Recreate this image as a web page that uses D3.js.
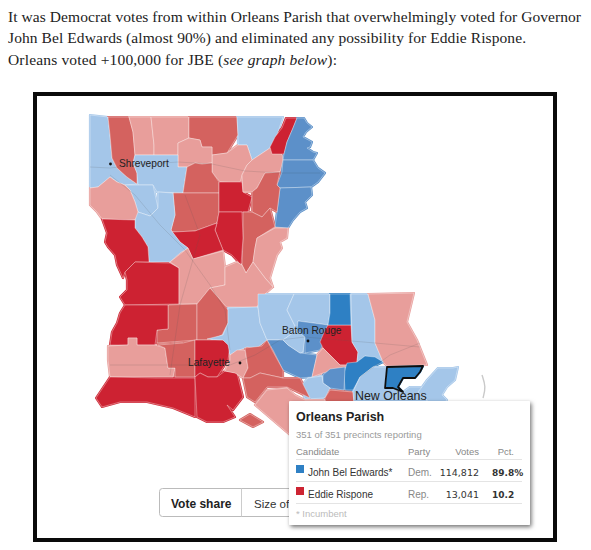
<!DOCTYPE html>
<html><head><meta charset="utf-8">
<script src="https://cdn.jsdelivr.net/npm/d3@7/dist/d3.min.js"></script>
<style>html,body{margin:0;padding:0;background:#fff}svg{display:block}</style>
</head><body>
<script>
// ---------- DATA ----------
const introLines = [
  [["It was Democrat votes from within Orleans Parish that overwhelmingly voted for Governor","normal"]],
  [["John Bel Edwards (almost 90%) and eliminated any possibility for Eddie Rispone.","normal"]],
  [["Orleans voted +100,000 for JBE (","normal"],["see graph below","italic"],["):","normal"]]
];
const shareBins = ["R strong","R mid","R light","D light","D mid","D strong"];
const shareColors = ["#cd2432","#d4625f","#e89e9b","#a4c6e9","#5b90c9","#2f80c4"];

const parishNames = ["Caddo","Bossier","Webster","Claiborne","Union","Morehouse","Ouachita","Lincoln","Bienville","Jackson","Winn","Caldwell","Richland","East Carroll","Madison","Tensas N","Tensas S","Franklin","Catahoula","Concordia","LaSalle","Grant","Red River","Natchitoches","De Soto","Sabine","Vernon","Rapides","Avoyelles","Allen","Evangeline","Beauregard","Calcasieu","Jeff Davis","Acadia","Cameron","Vermilion","St. Landry","Pointe Coupee","W. Feliciana","Iberville","W. Baton Rouge","E. Baton Rouge","Livingston","St. Helena","Tangipahoa","St. Tammany","Ascension","St. John","Assumption","Lafourche N","Terrebonne N","Jefferson","Plaquemines","Lafayette","St. Martin","St. Mary","Terrebonne S","Marsh Island","Orleans"];
const parishBins = ["D light","R mid","R light","R light","R mid","D light","R light","R light","D light","R mid","R mid","R strong","R light","R strong","D mid","D mid","D mid","R mid","R mid","R light","R strong","R strong","D light","D light","R light","R strong","R strong","R light","R light","R mid","R mid","R strong","R light","R mid","R strong","R strong","R strong","D light","D light","D light","D mid","D light","D mid","R strong","D strong","D light","R light","R light","D strong","D mid","D light","R mid","D light","D light","R light","R mid","R mid","R light","R mid","D strong"];
// Parish outlines, hand-traced, in map units
const parishRings = [
 [[0,0],[18,2],[20,20],[22,43],[27,53],[37,62],[47,69],[35,70],[27,67],[20,62],[8,72],[0,73]],
 [[18,2],[39,2],[43,17],[45,40],[43,48],[47,58],[47,69],[37,62],[27,53],[22,43],[20,20]],
 [[39,2],[61,2],[64,30],[64,40],[45,40],[43,17]],
 [[61,2],[99,2],[99,23],[88,28],[88,40],[64,40],[64,30]],
 [[99,2],[147,2],[148,20],[137,38],[122,40],[122,32],[112,32],[110,25],[99,23]],
 [[147,2],[193,2],[187,20],[180,33],[162,45],[157,30],[148,30],[148,20]],
 [[137,38],[148,30],[157,30],[162,45],[157,50],[152,60],[150,68],[130,67],[122,57],[122,40]],
 [[88,28],[99,23],[110,25],[112,32],[122,32],[122,48],[112,49],[105,48],[97,52],[88,52]],
 [[64,40],[88,40],[88,52],[97,52],[93,78],[67,77],[63,70],[48,70],[47,58],[43,48],[45,40]],
 [[97,52],[105,48],[112,49],[122,48],[122,57],[129,67],[129,78],[93,78]],
 [[83,78],[129,78],[129,97],[127,108],[105,116],[82,117],[81,115],[85,100]],
 [[129,67],[152,67],[153,77],[162,82],[158,97],[129,97]],
 [[180,33],[192,39],[193,45],[190,57],[175,58],[167,73],[162,77],[153,77],[152,60],[157,50],[162,45]],
 [[196,3],[207,3],[203,13],[197,27],[194,39],[182,39],[180,32],[185,22],[192,13]],
 [[207,3],[214,3],[217,8],[222,12],[216,17],[213,22],[222,27],[220,32],[217,33],[223,37],[227,38],[223,45],[193,45],[194,39],[197,27],[203,13]],
 [[193,45],[223,45],[228,53],[235,58],[228,67],[221,72],[190,73],[187,70],[192,57]],
 [[190,73],[221,72],[222,80],[215,87],[217,93],[210,97],[203,105],[198,113],[185,112],[187,97]],
 [[175,58],[190,57],[187,70],[190,73],[187,97],[180,93],[172,102],[162,97],[162,82],[162,77],[167,73]],
 [[153,97],[162,97],[172,102],[180,93],[185,112],[183,113],[167,123],[165,133],[163,147],[156,158],[152,150],[153,123]],
 [[185,113],[198,113],[197,123],[190,127],[192,133],[187,140],[183,153],[180,163],[183,172],[175,163],[163,147],[165,133],[167,123]],
 [[129,97],[152,97],[153,123],[151,150],[142,140],[133,135],[125,115],[127,108]],
 [[82,117],[105,116],[127,108],[125,115],[133,135],[103,144],[98,133],[90,127]],
 [[35,70],[63,70],[68,93],[60,101],[48,97],[45,87],[40,75]],
 [[68,77],[83,78],[85,100],[81,115],[90,127],[98,133],[90,138],[80,147],[59,147],[58,132],[52,122],[45,113],[45,98],[48,97],[60,101],[68,93]],
 [[0,73],[8,72],[20,62],[27,67],[35,70],[40,75],[45,87],[48,97],[45,105],[12,104],[7,97],[0,90]],
 [[12,104],[45,105],[45,113],[52,122],[58,132],[59,147],[45,147],[35,157],[33,163],[27,150],[25,140],[18,132],[15,127],[17,118]],
 [[35,157],[45,147],[80,148],[89,153],[89,189],[35,190],[30,182],[37,175],[37,165]],
 [[80,147],[98,133],[103,144],[133,136],[135,152],[135,170],[120,173],[107,189],[89,189],[89,153]],
 [[135,152],[147,147],[152,150],[156,158],[163,147],[175,163],[183,172],[175,179],[167,192],[137,192],[132,187],[120,173],[135,170]],
 [[78,190],[107,189],[107,225],[67,228],[67,215],[78,214]],
 [[107,189],[120,173],[132,187],[138,195],[138,208],[132,220],[120,225],[107,225]],
 [[35,190],[78,190],[78,214],[67,215],[65,230],[47,230],[47,223],[38,223],[38,230],[20,230],[22,217],[27,208],[30,198]],
 [[18,231],[38,230],[38,223],[47,223],[47,230],[65,230],[75,233],[78,253],[85,253],[83,262],[20,262],[18,245]],
 [[68,230],[93,228],[105,225],[105,262],[85,262],[85,253],[78,253],[75,233]],
 [[105,225],[133,225],[140,230],[138,245],[133,253],[127,262],[118,262],[110,258],[105,262]],
 [[20,262],[67,263],[105,263],[105,302],[83,293],[57,287],[30,287],[12,292],[6,283]],
 [[105,262],[110,258],[118,262],[127,262],[135,256],[147,258],[153,282],[143,295],[137,290],[145,302],[133,307],[117,307],[107,302]],
 [[117,224],[133,220],[138,208],[138,193],[168,192],[170,208],[177,225],[167,233],[157,232],[147,236],[140,240],[138,230],[133,225]],
 [[168,179],[204,179],[197,195],[207,215],[193,225],[177,225],[170,208],[168,192]],
 [[204,179],[240,179],[240,198],[238,210],[208,206],[207,215],[197,195]],
 [[177,225],[193,225],[198,230],[210,238],[227,240],[222,262],[210,263],[193,255],[183,235]],
 [[193,225],[207,215],[215,222],[213,237],[210,238],[198,230]],
 [[208,206],[238,210],[235,225],[230,235],[215,238],[215,222],[207,215]],
 [[238,210],[261,210],[262,227],[268,237],[267,247],[262,250],[250,250],[243,243],[233,233],[230,227],[235,215]],
 [[240,179],[260,179],[261,210],[238,210],[240,198]],
 [[261,179],[278,179],[285,205],[285,228],[293,247],[275,241],[267,247],[268,237],[262,227]],
 [[278,179],[324,178],[317,207],[327,225],[335,245],[337,250],[297,251],[293,247],[285,228],[285,205]],
 [[227,240],[233,233],[243,243],[250,250],[262,250],[257,252],[253,253],[233,258],[222,262]],
 [[257,248],[267,247],[275,241],[285,242],[293,247],[283,252],[270,262],[263,275],[255,275],[254,258]],
 [[233,260],[240,254],[255,252],[254,275],[240,273],[233,268]],
 [[210,272],[218,263],[232,261],[233,268],[240,273],[235,283],[215,284]],
 [[235,283],[240,275],[263,277],[265,300],[235,300]],
 [[263,277],[270,262],[283,252],[297,252],[295,273],[303,273],[313,277],[320,272],[332,272],[337,285],[340,300],[265,300]],
 [[337,265],[348,253],[363,253],[368,252],[365,265],[357,272],[352,280],[357,285],[340,300],[337,285],[328,277],[332,272]],
 [[140,240],[147,235],[155,235],[158,253],[153,263],[145,258],[135,256],[140,245]],
 [[155,233],[172,231],[177,225],[182,235],[193,255],[193,263],[170,258],[160,263],[153,263],[158,253]],
 [[153,263],[160,263],[170,258],[193,263],[210,263],[220,283],[197,272],[177,272],[165,287],[157,282]],
 [[165,290],[177,275],[197,273],[205,280],[215,285],[235,285],[240,320],[200,320]],
 [[150,305],[160,299],[173,307],[163,312]],
 [[297,252],[333,251],[330,257],[325,263],[313,263],[308,272],[313,277],[303,273],[295,273]]
];
const highwayNames = ["I-20","I-49","I-10","I-12","US-165","US-61"];
const highwayPaths = [
 [[0,52],[20,53],[45,50],[88,47],[122,49],[155,56],[190,58],[230,58]],
 [[20,60],[45,80],[70,110],[95,135],[120,170],[135,195],[140,235]],
 [[20,250],[80,250],[140,250],[165,240],[190,225],[215,222]],
 [[215,222],[285,228],[330,232]],
 [[95,80],[110,120],[90,190],[80,260]],
 [[270,262],[300,240],[330,228]]
];
const coastArc = [[392,260],[396,272],[393,283]];
const cityNames = ["Shreveport","Baton Rouge","Lafayette"];
const cityPoints = [[20.5,49],[218,226],[150,248]];
const cityLabelPos = [[29,52],[192,219],[98,251]];
const bigCity = ["New Orleans",[265,285]];

const tooltipTitle = "Orleans Parish";
const tooltipSub = "351 of 351 precincts reporting";
const tableHeaders = ["Candidate","Party","Votes","Pct."];
const candidates = ["John Bel Edwards*","Eddie Rispone"];
const parties = ["Dem.","Rep."];
const votes = ["114,812","13,041"];
const pcts = ["89.8%","10.2"];
const candidateBins = ["D strong","R strong"];
const footnote = "* Incumbent";
const buttons = ["Vote share","Size of"];

// ---------- DRAW ----------
const W = 591, H = 550;
const svg = d3.select("body").append("svg").attr("width",W).attr("height",H);
const x = d3.scaleLinear().domain([0,400]).range([90,490]);
const y = d3.scaleLinear().domain([0,400]).range([115,515]);
const color = d3.scaleOrdinal(shareBins, shareColors);
const line = d3.line().x(d=>x(d[0])).y(d=>y(d[1]));
const SERIF = "'Liberation Serif',serif", SANS = "'Liberation Sans',Arial,sans-serif";

// intro
const lineFit = [573,518,329];
svg.selectAll("text.intro").data(introLines).join("text")
  .attr("class","intro").attr("x",8).attr("y",(d,i)=>[22,43,65][i])
  .attr("font-family",SERIF).attr("font-size",15.5).attr("fill","#222")
  .attr("textLength",(d,i)=>lineFit[i]).attr("lengthAdjust","spacing")
  .selectAll("tspan").data(d=>d).join("tspan")
  .attr("font-style",d=>d[1]).text(d=>d[0]);

// frame
svg.append("rect").attr("x",35).attr("y",94).attr("width",520).attr("height",446)
  .attr("fill","#fff").attr("stroke","#0a0a0a").attr("stroke-width",4);

const defs = svg.append("defs");
defs.append("filter").attr("id","soft").append("feGaussianBlur").attr("stdDeviation",.35);
const mapG = svg.append("g").attr("filter","url(#soft)");

// parishes: first pass closes slivers between hand-traced neighbours, second pass draws borders
mapG.append("g").selectAll("path").data(parishRings).join("path")
  .attr("d",d=>line(d)+"Z")
  .attr("fill",(d,i)=>color(parishBins[i]))
  .attr("stroke",(d,i)=>color(parishBins[i])).attr("stroke-width",2.2)
  .attr("stroke-linejoin","round");
mapG.append("g").selectAll("path").data(parishRings).join("path")
  .attr("d",d=>line(d)+"Z")
  .attr("fill",(d,i)=>color(parishBins[i]))
  .attr("stroke","#fff").attr("stroke-opacity",.4).attr("stroke-width",.9)
  .attr("stroke-linejoin","round");
// highways
mapG.append("g").selectAll("path").data(highwayPaths).join("path")
  .attr("d",line).attr("fill","none").attr("stroke","#555").attr("stroke-opacity",.2).attr("stroke-width",.8);
// orleans outline
mapG.append("path").attr("d",line(parishRings[parishNames.indexOf("Orleans")])+"Z")
  .attr("fill","none").attr("stroke","#111").attr("stroke-width",1.8).attr("stroke-linejoin","round");
// coast arc
mapG.append("path").attr("d",line.curve(d3.curveBasis)(coastArc)).attr("fill","none")
  .attr("stroke","#c9c9c9").attr("stroke-width",1.4);
line.curve(d3.curveLinear);

// cities
svg.append("g").selectAll("circle").data(cityPoints).join("circle")
  .attr("cx",d=>x(d[0])).attr("cy",d=>y(d[1])).attr("r",1.4).attr("fill","#111");
svg.append("g").selectAll("text").data(cityNames).join("text")
  .attr("x",(d,i)=>x(cityLabelPos[i][0])).attr("y",(d,i)=>y(cityLabelPos[i][1]))
  .attr("font-family",SANS).attr("font-size",10.2).attr("fill","#222").text(d=>d);
svg.append("text").attr("x",x(bigCity[1][0])).attr("y",y(bigCity[1][1]))
  .attr("font-family",SANS).attr("font-size",12.4).attr("fill","#222").text(bigCity[0]);

// button group
svg.append("rect").attr("x",159.5).attr("y",488.5).attr("width",175).attr("height",28).attr("rx",3)
  .attr("fill","#fff").attr("stroke","#bbb");
svg.append("line").attr("x1",241.5).attr("x2",241.5).attr("y1",488.5).attr("y2",516.5).attr("stroke","#ccc");
svg.append("text").attr("x",171).attr("y",508).attr("font-family",SANS).attr("font-size",12).attr("font-weight",700).attr("fill","#222").text(buttons[0]);
svg.append("text").attr("x",254).attr("y",508).attr("font-family",SANS).attr("font-size",11.5).attr("fill","#333").text(buttons[1]);

// tooltip
const f = defs.append("filter").attr("id","sh").attr("x","-10%").attr("y","-10%").attr("width","125%").attr("height","125%");
f.append("feDropShadow").attr("dx",1.5).attr("dy",2).attr("stdDeviation",2).attr("flood-color","#000").attr("flood-opacity",.55);
svg.append("rect").attr("x",289).attr("y",401).attr("width",241).attr("height",124).attr("rx",1)
  .attr("fill","#fff").attr("filter","url(#sh)");
const tip = svg.append("g").attr("font-family",SANS);
const T = (s,xx,yy,o={})=>tip.append("text").attr("x",xx).attr("y",yy)
  .attr("font-size",o.size||10).attr("font-weight",o.w||400).attr("fill",o.c||"#333")
  .attr("text-anchor",o.a||"start").text(s);
T(tooltipTitle,296,421,{size:12.5,w:700,c:"#222"});
T(tooltipSub,296,438,{size:9.5,c:"#999"});
const headX = [296,408,479,514], headA = ["start","start","end","end"];
tableHeaders.forEach((h,i)=>T(h,headX[i],455,{size:9.5,c:"#888",a:headA[i]}));
const rowY = [476,498];
[459.5,481.5,503.5].forEach(v=>tip.append("line").attr("x1",296).attr("x2",522).attr("y1",v).attr("y2",v).attr("stroke","#e4e4e4"));
candidates.forEach((c,i)=>{
  tip.append("rect").attr("x",296).attr("y",rowY[i]-11).attr("width",8).attr("height",8).attr("fill",color(candidateBins[i]));
  T(c,308,rowY[i],{size:10,c:"#333"});
  T(parties[i],408,rowY[i],{size:10,c:"#888"});
  T(votes[i],479,rowY[i],{size:10,c:"#333",a:"end"}).attr("font-family","'DejaVu Sans',sans-serif").attr("font-size",9.5);
  T(pcts[i],492,rowY[i],{size:9,w:700,c:"#333"}).attr("font-family","'DejaVu Sans',sans-serif");
});
T(footnote,296,517,{size:9.5,c:"#bbb"});
</script>
</body></html>
